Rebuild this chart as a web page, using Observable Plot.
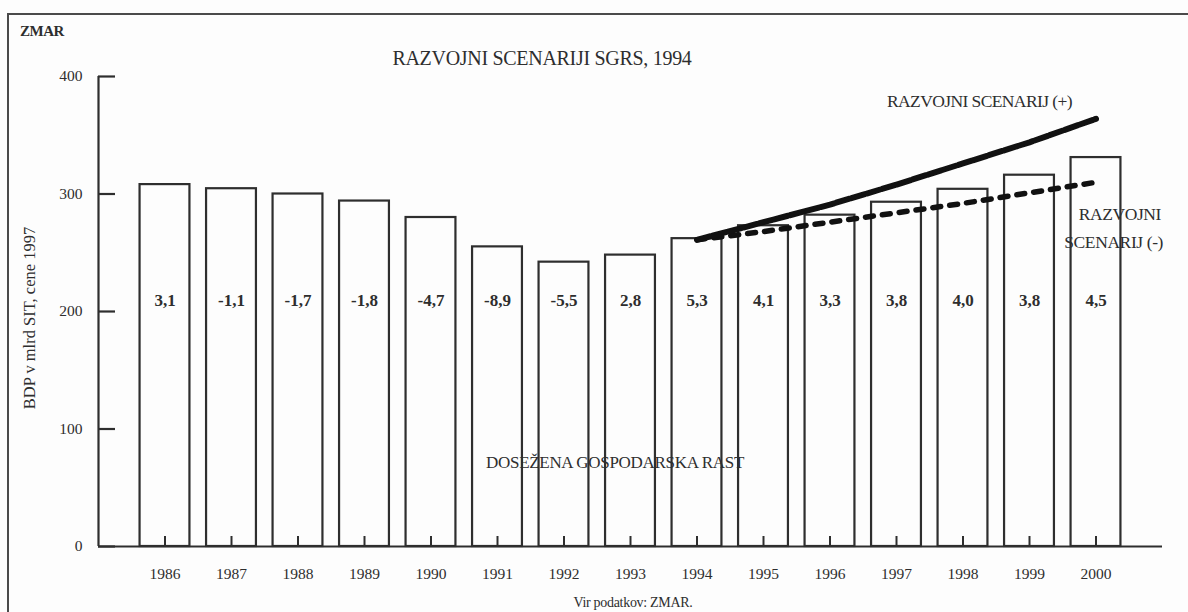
<!DOCTYPE html>
<html>
<head>
<meta charset="utf-8">
<script src="https://cdn.jsdelivr.net/npm/d3@7"></script>
<script src="https://cdn.jsdelivr.net/npm/@observablehq/plot@0.6"></script>
<style>
  html, body { margin: 0; padding: 0; background: #fdfdfd; }
  #wrap { position: relative; width: 1188px; height: 612px; overflow: hidden; font-family: "Liberation Serif", "DejaVu Serif", serif; color: #2e2e2e; }
  #frame { position: absolute; left: 7px; top: 13px; width: 1300px; height: 700px; border-top: 2px solid #4a4a4a; border-left: 2px solid #4a4a4a; }
  .t { position: absolute; white-space: nowrap; line-height: 1; }
  #chart { position: absolute; left: 0; top: 0; }
</style>
</head>
<body>
<div id="wrap">
  <div id="frame"></div>
  <div id="chart"></div>
  <div class="t" style="left:20px; top:24px; font-size:15px; font-weight:bold; letter-spacing:-0.5px;">ZMAR</div>
  <div class="t" id="title" style="left:542px; top:48px; font-size:20px; letter-spacing:-0.3px; transform:translateX(-50%);">RAZVOJNI SCENARIJI SGRS, 1994</div>
  <div class="t" style="left:887px; top:93px; font-size:17.5px; letter-spacing:-0.6px;">RAZVOJNI SCENARIJ (+)</div>
  <div class="t" style="right:27px; top:206px; font-size:17.5px; letter-spacing:-0.4px;">RAZVOJNI</div>
  <div class="t" style="right:25px; top:234px; font-size:17.5px; letter-spacing:-0.4px;">SCENARIJ (-)</div>
  <div class="t" style="left:615px; top:454px; font-size:17px; letter-spacing:-0.3px; transform:translateX(-50%);">DOSEŽENA GOSPODARSKA RAST</div>
  <div class="t" style="left:633px; top:596px; font-size:14px; letter-spacing:-0.3px; transform:translateX(-50%);">Vir podatkov: ZMAR.</div>
  <div class="t" style="left:30px; top:318px; font-size:16.5px; transform:translate(-50%,-50%) rotate(-90deg);">BDP v mlrd SIT, cene 1997</div>
</div>
<script>
// ---- data ----
const years = [1986, 1987, 1988, 1989, 1990, 1991, 1992, 1993, 1994, 1995, 1996, 1997, 1998, 1999, 2000];
const gdp = [308, 304.5, 300, 294, 280, 255, 242, 248, 262, 273, 282, 293, 304, 316, 331];
const growth = ["3,1", "-1,1", "-1,7", "-1,8", "-4,7", "-8,9", "-5,5", "2,8", "5,3", "4,1", "3,3", "3,8", "4,0", "3,8", "4,5"];
const scenarioYears = [1994, 1995, 1996, 1997, 1998, 1999, 2000];
const scenarioPlus = [261, 276, 291, 308, 326, 344, 364];
const scenarioMinus = [261, 268, 276, 284, 292, 301, 310];
const yTicks = [0, 100, 200, 300, 400];
const xDomain = [1985, 2001];
const yDomain = [0, 400];

const bars = years.map((year, i) => ({year, value: gdp[i], growth: growth[i]}));
const plus = scenarioYears.map((year, i) => ({year, value: scenarioPlus[i]}));
const minus = scenarioYears.map((year, i) => ({year, value: scenarioMinus[i]}));

const ink = "#2e2e2e";
const half = 0.375;

const chart = Plot.plot({
  width: 1188,
  height: 612,
  marginLeft: 98,
  marginRight: 26,
  marginTop: 76,
  marginBottom: 66,
  style: {fontFamily: "'Liberation Serif', serif", fontSize: "15px", color: ink, background: "transparent", overflow: "visible"},
  x: {type: "linear", domain: xDomain},
  y: {domain: yDomain},
  marks: [
    Plot.rectY(bars, {x1: d => d.year - half, x2: d => d.year + half, y1: 0, y2: "value", fill: "none", stroke: ink, strokeWidth: 2.2}),
    Plot.text(bars, {x: "year", text: "growth", frameAnchor: "top", dy: 217, fontWeight: "bold", fontSize: 17, fill: ink}),
    Plot.line(minus, {x: "year", y: "value", stroke: "#111", strokeWidth: 5.5, strokeDasharray: "8,9"}),
    Plot.line(plus, {x: "year", y: "value", stroke: "#111", strokeWidth: 6, strokeDasharray: "14,2"}),
    Plot.ruleY([yDomain[0]], {x1: xDomain[0], x2: xDomain[1], stroke: ink, strokeWidth: 2.2}),
    Plot.ruleX([xDomain[0]], {y1: yDomain[0], y2: yDomain[1], stroke: ink, strokeWidth: 2.2}),
    Plot.axisY({ticks: yTicks, tickSize: -17, tickPadding: 33, strokeWidth: 2.2, label: null, fontSize: 15.5}),
    Plot.axisX({ticks: years, tickSize: -10, tickPadding: 31, strokeWidth: 2, tickFormat: d => String(d), label: null, fontSize: 15.5})
  ]
});
document.getElementById("chart").appendChild(chart);
</script>
</body>
</html>
